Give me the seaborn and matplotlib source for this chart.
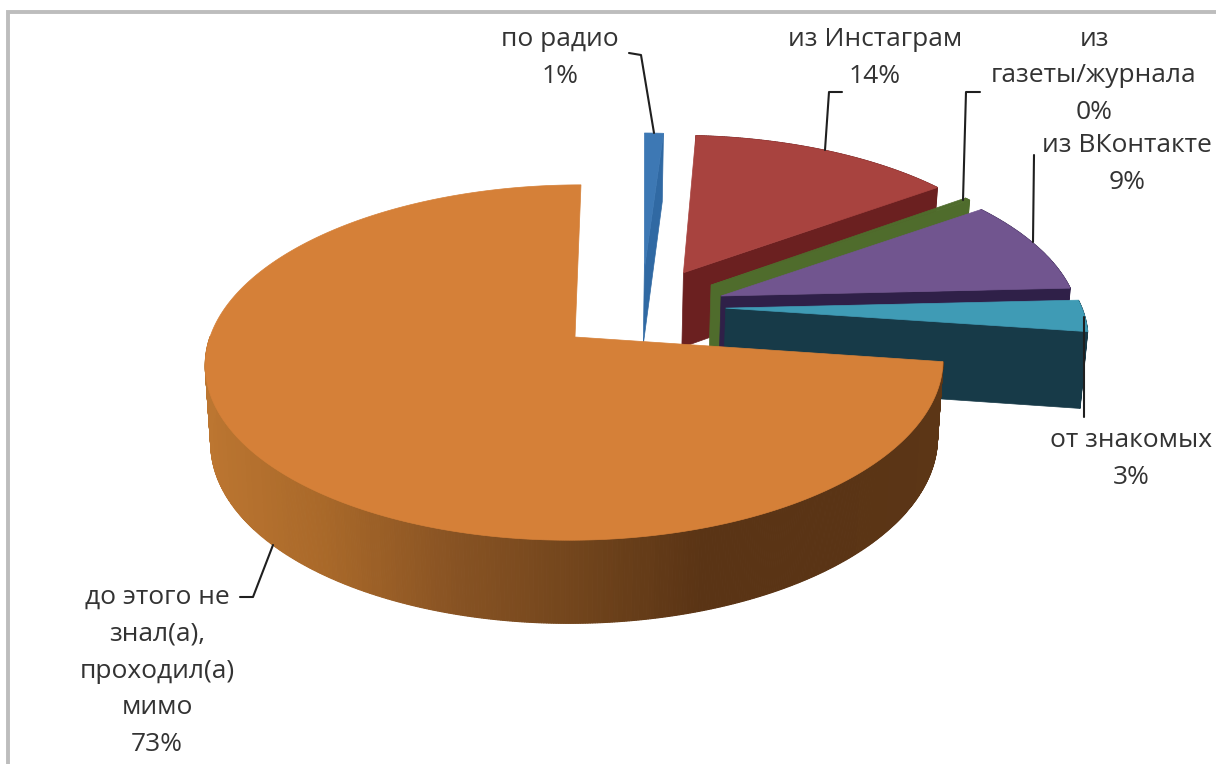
import numpy as np
import matplotlib
matplotlib.use("Agg")
import matplotlib.pyplot as plt
import seaborn as sns

# ---- data ----
categories = ["по радио", "из Инстаграм", "из\nгазеты/журнала", "из ВКонтакте", "от знакомых",
              "до этого не\nзнал(а),\nпроходил(а)\nмимо"]
values = [1, 14, 0.3, 9, 3, 73]

# ---- style ----
top_colors = ["#3D78B4", "#A8433F", "#4F6C2C", "#71558F", "#3F9BB5", "#D58038"]
wall_colors = ["#3069A3", "#6B2020", "#4F6C2C", "#2F2048", "#173A48", "#5A3415"]
explode_x = [0.194, 0.307, 0.384, 0.41, 0.42, 0.0]
explode_y = [0.41, 0.39, 0.312, 0.244, 0.17, 0.0]
twist = [0.4, 0, 0, 0, 0, 0]
label_pos = [(560, 58), (875, 58), (1094, 76), (1127, 164), (1131, 459), (157, 671)]
leaders = [[(629, 53), (641, 55), (654, 133)],
           [(842, 92), (829, 92), (825, 150)],
           [(980, 92), (966, 92), (963, 200)],
           [(1034, 155), (1033, 242)],
           [(1084, 317), (1084, 417)],
           [(240, 597), (253, 597), (273, 545)]]
side_shades = ["#BC7631", "#A86829", "#885323", "#72451C", "#5A3415", "#5A3415", "#5C3616"]

X0, Y0, R, C, K = 575.0, 337.0, 365.0, 174.0, 0.1437
SHEAR = 6.0
LOWER_SCALE = 0.985

sns.set_theme(style="white")
plt.rcParams["font.family"] = ["Open Sans", "DejaVu Sans"]


def project(X, Y, lower=False):
    w = 1 + K * Y
    s = LOWER_SCALE if lower else 1.0
    px = X0 + s * R * X / w + SHEAR * Y
    py = Y0 - C * Y / w
    if lower:
        py = py + 77 * (1 - 0.08 * Y)
    return px, py


fig = plt.figure(figsize=(12.16, 7.64), dpi=100)
ax = fig.add_axes([0, 0, 1, 1])
ax.set_xlim(0, 1216)
ax.set_ylim(764, 0)
ax.axis("off")

# frame of the original picture
ax.plot([8, 8, 1216], [764, 12, 12], color="#BDBDBD", lw=2.8, solid_joinstyle="miter", zorder=0)

palette = sns.blend_palette(side_shades, n_colors=151)

fractions = np.array(values) / np.sum(values) * 360
ends = np.cumsum(fractions)
starts = ends - fractions
z = 1
for i, (a0, a1) in enumerate(zip(starts, ends)):
    t = np.radians(np.linspace(a0 + twist[i], a1 + twist[i], max(int(a1 - a0) * 3, 4)))
    X = explode_x[i] + np.sin(t)
    Y = explode_y[i] + np.cos(t)
    ax_, ay_ = explode_x[i], explode_y[i]
    tx, ty = project(X, Y)
    lx, ly = project(X, Y, True)

    # outer wall, shaded from left to right on the large slice
    if i != 0:
        for j in range(len(t) - 1):
            if i == 5:
                if Y[j] > 0:
                    continue
                idx = int(np.clip((tx[j] - 200) / 5, 0, 150))
                shade = palette[idx]
            else:
                shade = wall_colors[i]
            ax.fill([tx[j], tx[j + 1], lx[j + 1], lx[j]], [ty[j], ty[j + 1], ly[j + 1], ly[j]],
                    color=shade, lw=0.8, zorder=z)
    z += 1

    # radial wall at the end of the slice (the large slice hides it)
    if i != 5:
        ap_t = project(ax_, ay_)
        ap_l = project(ax_, ay_, True)
        ax.fill([ap_t[0], tx[-1], lx[-1], ap_l[0]], [ap_t[1], ty[-1], ly[-1], ap_l[1]],
                color=wall_colors[i], lw=0.5, zorder=z)
        z += 1

    # top face
    ap = project(ax_, ay_)
    ax.fill(np.r_[ap[0], tx], np.r_[ap[1], ty], color=top_colors[i], lw=0.5, zorder=z)
    z += 1

# leader lines and labels
for pts in leaders:
    p = np.array(pts)
    ax.plot(p[:, 0], p[:, 1], color="#1F1F1F", lw=1.5, zorder=z, solid_joinstyle="round")
for name, val, (lx_, ly_) in zip(categories, values, label_pos):
    ax.text(lx_, ly_, f"{name}\n{round(val)}%", ha="center", va="center", fontsize=19,
            color="#333333", linespacing=1.62, zorder=z + 1)

fig.savefig("out.png", dpi=100)
